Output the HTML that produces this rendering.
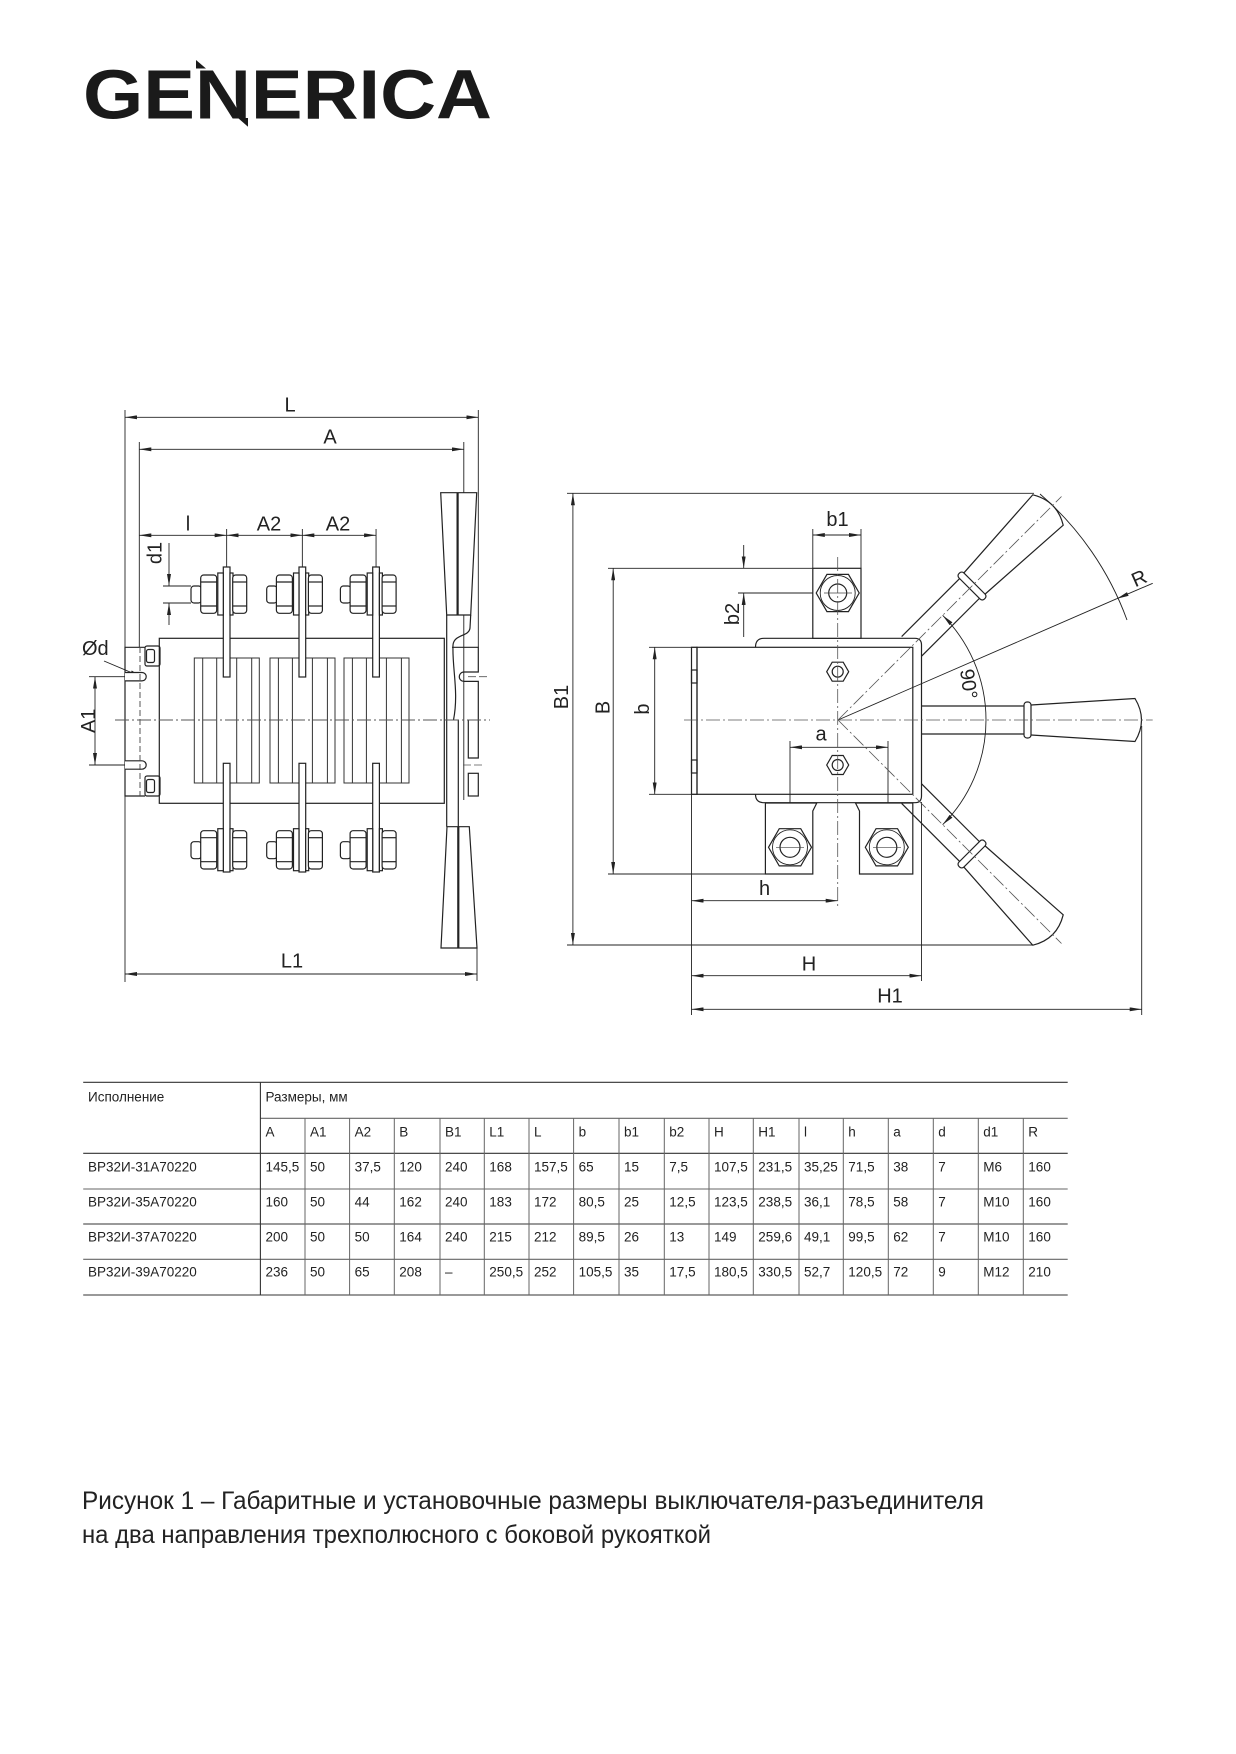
<!DOCTYPE html>
<html><head><meta charset="utf-8"><style>
html,body{margin:0;padding:0;background:#fff;}
svg{display:block;}
text{font-family:"Liberation Sans",Arial,sans-serif;fill:#222;}
</style></head><body>
<svg width="1236" height="1754" viewBox="0 0 1236 1754" xmlns="http://www.w3.org/2000/svg">
<defs>
<marker id="ar" viewBox="0 0 12 4" refX="12" refY="2" markerWidth="12" markerHeight="4" markerUnits="userSpaceOnUse" orient="auto-start-reverse"><path d="M0,0 L12,2 L0,4 z" fill="#222"/></marker>
<g id="nut" stroke="#222" stroke-width="1.2" fill="#fff">
<rect x="-32.3" y="586" width="10.5" height="17" rx="3"/>
<rect x="-22.6" y="575" width="16" height="38.3" rx="3"/>
<line x1="-22.6" y1="582" x2="-6.6" y2="582"/><line x1="-22.6" y1="606" x2="-6.6" y2="606"/>
<rect x="-5.5" y="573" width="5.5" height="42"/>
<rect x="6.7" y="573" width="3" height="42"/>
<rect x="9.4" y="575" width="14" height="38.3" rx="3"/>
<line x1="9.4" y1="582" x2="23.4" y2="582"/><line x1="9.4" y1="606" x2="23.4" y2="606"/>
</g>
<g id="ch" stroke="#333" stroke-width="1" fill="none">
<rect x="0" y="658" width="65" height="125"/>
<line x1="8.4" y1="658" x2="8.4" y2="783"/><line x1="22.4" y1="658" x2="22.4" y2="783"/>
<line x1="42.4" y1="658" x2="42.4" y2="783"/><line x1="57.4" y1="658" x2="57.4" y2="783"/>
</g>
</defs>

<!-- LOGO -->
<text x="83" y="118.3" font-size="70" font-weight="bold" textLength="409" lengthAdjust="spacingAndGlyphs" style="fill:#1a1a1a">GENERICA</text>
<polygon points="196,68.5 196,60 206,68.5" fill="#1a1a1a"/>
<polygon points="238,118 248,118 248,126.7" fill="#1a1a1a"/>

<!-- ================= LEFT VIEW ================= -->
<g stroke="#222" stroke-width="0.9" fill="none">
<line x1="125" y1="410" x2="125" y2="982"/>
<line x1="478.3" y1="410" x2="478.3" y2="647.3"/>
<line x1="139.3" y1="442" x2="139.3" y2="647.3"/>
<line x1="463.8" y1="442" x2="463.8" y2="800"/>
<line x1="226.65" y1="529" x2="226.65" y2="567"/>
<line x1="302.35" y1="529" x2="302.35" y2="567"/>
<line x1="376.05" y1="529" x2="376.05" y2="567"/>
<line x1="477" y1="948" x2="477" y2="981"/>
<line x1="125" y1="417.3" x2="478.3" y2="417.3" marker-start="url(#ar)" marker-end="url(#ar)"/>
<line x1="139.3" y1="449.3" x2="463.8" y2="449.3" marker-start="url(#ar)" marker-end="url(#ar)"/>
<line x1="139.3" y1="535.3" x2="226.65" y2="535.3" marker-start="url(#ar)" marker-end="url(#ar)"/>
<line x1="226.65" y1="535.3" x2="302.35" y2="535.3" marker-start="url(#ar)" marker-end="url(#ar)"/>
<line x1="302.35" y1="535.3" x2="376.05" y2="535.3" marker-start="url(#ar)" marker-end="url(#ar)"/>
<line x1="125" y1="974" x2="477" y2="974" marker-start="url(#ar)" marker-end="url(#ar)"/>
<line x1="169" y1="543" x2="169" y2="586" marker-end="url(#ar)"/>
<line x1="169" y1="625" x2="169" y2="603" marker-end="url(#ar)"/>
<line x1="163" y1="586" x2="191" y2="586"/>
<line x1="163" y1="603" x2="191" y2="603"/>
<line x1="95" y1="676.7" x2="95" y2="765" marker-start="url(#ar)" marker-end="url(#ar)"/>
<line x1="89" y1="676.7" x2="142" y2="676.7"/>
<line x1="89" y1="765" x2="142" y2="765"/>
<line x1="104" y1="661" x2="142" y2="677" marker-end="url(#ar)"/>
</g>

<g font-size="20">
<text x="290" y="411.7" text-anchor="middle">L</text>
<text x="330" y="443.3" text-anchor="middle">A</text>
<text x="188" y="530.7" text-anchor="middle">l</text>
<text x="269" y="530.7" text-anchor="middle">A2</text>
<text x="338" y="530.7" text-anchor="middle">A2</text>
<text x="292" y="967.3" text-anchor="middle">L1</text>
<text transform="translate(161.5,553) rotate(-90)" text-anchor="middle">d1</text>
<text transform="translate(95,720.8) rotate(-90)" text-anchor="middle">A1</text>
<text x="82" y="655">Ød</text>
</g>

<g stroke="#222" stroke-width="1.2" fill="none">
<path d="M145,647.3 H125 V796 H145"/>
<path d="M125,672.5 H142 A4.2,4.2 0 0 1 142,680.9 H125" fill="#fff"/>
<path d="M125,760.8 H142 A4.2,4.2 0 0 1 142,769.2 H125" fill="#fff"/>
<rect x="145" y="646" width="15" height="20" rx="2" fill="#fff"/>
<rect x="146.5" y="649.5" width="8" height="13" rx="2"/>
<rect x="145" y="776" width="15" height="20" rx="2" fill="#fff"/>
<rect x="146.5" y="779.5" width="8" height="13" rx="2"/>
</g>
<line x1="140" y1="647" x2="140" y2="796" stroke="#444" stroke-width="0.9" stroke-dasharray="6 3"/>

<rect x="159.3" y="638.3" width="285" height="165" fill="none" stroke="#222" stroke-width="1.2"/>
<use href="#ch" transform="translate(194.3,0)"/>
<use href="#ch" transform="translate(270,0)"/>
<use href="#ch" transform="translate(344,0)"/>

<g stroke="#222" stroke-width="1.2" fill="#fff">
<rect x="223.3" y="567" width="6.7" height="110"/>
<rect x="299" y="567" width="6.7" height="110"/>
<rect x="372.7" y="567" width="6.7" height="110"/>
<rect x="223.3" y="763.3" width="6.7" height="108.7"/>
<rect x="299" y="763.3" width="6.7" height="108.7"/>
<rect x="372.7" y="763.3" width="6.7" height="108.7"/>
</g>
<use href="#nut" transform="translate(223.3,0)"/>
<use href="#nut" transform="translate(299,0)"/>
<use href="#nut" transform="translate(372.7,0)"/>
<use href="#nut" transform="translate(223.3,255.7)"/>
<use href="#nut" transform="translate(299,255.7)"/>
<use href="#nut" transform="translate(372.7,255.7)"/>

<g stroke="#222" stroke-width="1.2" fill="none">
<polygon points="440.7,492.7 476.7,492.7 470.7,615 446.7,615" fill="#fff"/>
<line x1="457.6" y1="492.7" x2="457.6" y2="615" stroke-width="2.2"/>
<line x1="446.7" y1="615" x2="446.7" y2="826.7"/>
<path d="M470.7,615 L470,628 C469,637 454,634 453,645 C452,668 459,692 453.5,720"/>
<path d="M452,647.3 H478.3 V672 H464 A4.7,4.7 0 0 0 464,681.4 H478.3 V758 H468.3 V720"/>
<rect x="468.3" y="773.3" width="10" height="22.7"/>
<line x1="458.3" y1="720" x2="458.3" y2="826.7"/>
<polygon points="447,826.7 469.3,826.7 477,948 441,948" fill="#fff"/>
<line x1="458.3" y1="826.7" x2="458.3" y2="948" stroke-width="2.2"/>
</g>
<g stroke="#555" stroke-width="0.8">
<line x1="468" y1="676.7" x2="490" y2="676.7" stroke-dasharray="8 3"/>
<line x1="463" y1="765" x2="485" y2="765" stroke-dasharray="8 3"/>
</g>
<line x1="115" y1="720" x2="490" y2="720" stroke="#555" stroke-width="0.9" stroke-dasharray="14 3 2 3"/>

<!-- ================= RIGHT VIEW ================= -->
<g stroke="#222" stroke-width="0.9" fill="none">
<line x1="567" y1="493.3" x2="1034" y2="493.3"/>
<line x1="567" y1="945" x2="1034" y2="945"/>
<line x1="608" y1="568.3" x2="812.8" y2="568.3"/>
<line x1="608" y1="874" x2="812.8" y2="874"/>
<line x1="649" y1="647.3" x2="697" y2="647.3"/>
<line x1="649" y1="794.3" x2="697" y2="794.3"/>
<line x1="812.8" y1="529" x2="812.8" y2="568.3"/>
<line x1="861" y1="529" x2="861" y2="568.3"/>
<line x1="738" y1="593" x2="838" y2="593"/>
<line x1="790" y1="741" x2="790" y2="867"/>
<line x1="888" y1="741" x2="888" y2="867"/>
<line x1="691.5" y1="794" x2="691.5" y2="1015"/>
<line x1="921.5" y1="802" x2="921.5" y2="981"/>
<line x1="1141.7" y1="726" x2="1141.7" y2="1015"/>
<line x1="572.9" y1="493.3" x2="572.9" y2="945" marker-start="url(#ar)" marker-end="url(#ar)"/>
<line x1="613.2" y1="568.3" x2="613.2" y2="874" marker-start="url(#ar)" marker-end="url(#ar)"/>
<line x1="654.7" y1="647.3" x2="654.7" y2="794.3" marker-start="url(#ar)" marker-end="url(#ar)"/>
<line x1="812.8" y1="535" x2="861" y2="535" marker-start="url(#ar)" marker-end="url(#ar)"/>
<line x1="743.7" y1="545" x2="743.7" y2="568.3" marker-end="url(#ar)"/>
<line x1="743.7" y1="637" x2="743.7" y2="593" marker-end="url(#ar)"/>
<line x1="790" y1="747.3" x2="888" y2="747.3" marker-start="url(#ar)" marker-end="url(#ar)"/>
<line x1="691.5" y1="900.7" x2="837.7" y2="900.7" marker-start="url(#ar)" marker-end="url(#ar)"/>
<line x1="691.5" y1="975.7" x2="921.5" y2="975.7" marker-start="url(#ar)" marker-end="url(#ar)"/>
<line x1="691.5" y1="1009.3" x2="1141.7" y2="1009.3" marker-start="url(#ar)" marker-end="url(#ar)"/>
<path d="M942.65,615.35 A148,148 0 0 1 942.65,824.65" marker-start="url(#ar)" marker-end="url(#ar)"/>
<line x1="838" y1="720" x2="1116.8" y2="598.7"/>
<line x1="1152.7" y1="583.3" x2="1116.8" y2="598.7" marker-end="url(#ar)"/>
<path d="M1040,494 A304,304 0 0 1 1127,620"/>
</g>

<g stroke="#222" stroke-width="1.2" fill="none">
<rect x="691.5" y="647.3" width="5.5" height="147"/>
<rect x="691.5" y="670" width="5.5" height="13"/>
<rect x="691.5" y="760" width="5.5" height="13"/>
<rect x="697" y="647.3" width="215.8" height="147"/>
<path d="M755.5,647.3 Q755.5,638.3 764,638.3 L915,638.3 Q921.5,638.3 921.5,645 L921.5,796 Q921.5,802.7 915,802.7 L764,802.7 Q755.5,802.7 755.5,794.3"/>
<rect x="812.8" y="568.3" width="48.2" height="70" fill="#fff"/>
<path d="M765.4,874 V803 H816.8 L812.8,811 V874 Z" fill="#fff"/>
<path d="M912.8,874 V803 H855.5 L859.5,811 V874 Z" fill="#fff"/>
<polygon points="816.2,593 826.95,574.4 848.45,574.4 859.2,593 848.45,611.6 826.95,611.6"/>
<circle cx="837.7" cy="593" r="17.5" stroke-width="0.9"/>
<circle cx="837.7" cy="593" r="9"/>
<polygon points="768.5,847.3 779.25,828.7 800.75,828.7 811.5,847.3 800.75,865.9 779.25,865.9"/>
<circle cx="790" cy="847.3" r="17.5" stroke-width="0.9"/>
<circle cx="790" cy="847.3" r="10"/>
<polygon points="865.3,847.3 876.05,828.7 897.55,828.7 908.3,847.3 897.55,865.9 876.05,865.9"/>
<circle cx="886.8" cy="847.3" r="17.5" stroke-width="0.9"/>
<circle cx="886.8" cy="847.3" r="10"/>
<polygon points="826.7,671.7 832.2,662.2 843.2,662.2 848.7,671.7 843.2,681.2 832.2,681.2"/>
<circle cx="837.7" cy="671.7" r="5.5"/>
<polygon points="826.7,765 832.2,755.5 843.2,755.5 848.7,765 843.2,774.5 832.2,774.5"/>
<circle cx="837.7" cy="765" r="5.5"/>
</g>
<g stroke="#444" stroke-width="0.7">
<line x1="776" y1="847.3" x2="804" y2="847.3"/>
<line x1="873" y1="847.3" x2="901" y2="847.3"/>
<line x1="824" y1="593" x2="852" y2="593"/>
</g>

<g stroke="#222" stroke-width="1.2" fill="none">
<g transform="translate(838,720)">
<path d="M83.5,-14 H186 M83.5,14 H186"/>
<rect x="186" y="-18" width="7" height="36" rx="3"/>
<path d="M193,-15 L297,-21.5 Q310,0 297,21.5 L193,15"/>
</g>
<g transform="translate(838,720) rotate(-45)">
<path d="M104,-14 H186 M104,14 H186"/>
<rect x="186" y="-18" width="7" height="36" rx="3"/>
<path d="M193,-15 L297,-21.5 Q310,0 297,21.5 L193,15"/>
</g>
<g transform="translate(838,720) rotate(45)">
<path d="M104,-14 H186 M104,14 H186"/>
<rect x="186" y="-18" width="7" height="36" rx="3"/>
<path d="M193,-15 L297,-21.5 Q310,0 297,21.5 L193,15"/>
</g>
</g>
<g stroke="#555" stroke-width="0.8" fill="none" stroke-dasharray="14 3 2 3">
<line x1="684" y1="720" x2="1152.7" y2="720"/>
<line x1="837.7" y1="557" x2="837.7" y2="907"/>
<line x1="838" y1="720" x2="1061.5" y2="496.5"/>
<line x1="838" y1="720" x2="1061.5" y2="943.5"/>
</g>

<g font-size="20">
<text transform="translate(568,697) rotate(-90)" text-anchor="middle">B1</text>
<text transform="translate(609.3,707.5) rotate(-90)" text-anchor="middle">B</text>
<text transform="translate(648.8,709) rotate(-90)" text-anchor="middle">b</text>
<text transform="translate(739,614) rotate(-90)" text-anchor="middle">b2</text>
<text x="837.5" y="526" text-anchor="middle">b1</text>
<text x="821" y="740.7" text-anchor="middle">a</text>
<text x="764.5" y="895" text-anchor="middle">h</text>
<text x="809" y="970.7" text-anchor="middle">H</text>
<text x="890" y="1002.7" text-anchor="middle">H1</text>
<text transform="translate(969,684) rotate(82)" x="0" y="7" text-anchor="middle">90°</text>
<text transform="translate(1139,578) rotate(-24)" x="0" y="7" text-anchor="middle">R</text>
</g>

<!-- ================= TABLE ================= -->
<g stroke="#333" stroke-width="1.1">
<line x1="83.2" y1="1082.3" x2="1067.7" y2="1082.3"/>
<line x1="260.4" y1="1118.3" x2="1067.7" y2="1118.3" stroke="#666"/>
<line x1="83.2" y1="1153.3" x2="1067.7" y2="1153.3"/>
<line x1="83.2" y1="1189" x2="1067.7" y2="1189" stroke="#666"/>
<line x1="83.2" y1="1224" x2="1067.7" y2="1224"/>
<line x1="83.2" y1="1259.3" x2="1067.7" y2="1259.3" stroke="#666"/>
<line x1="83.2" y1="1295" x2="1067.7" y2="1295"/>
<line x1="260.4" y1="1082.3" x2="260.4" y2="1295"/>
</g>
<g stroke="#666" stroke-width="1">
<line x1="305" y1="1118.3" x2="305" y2="1295"/>
<line x1="349.6" y1="1118.3" x2="349.6" y2="1295"/>
<line x1="394.3" y1="1118.3" x2="394.3" y2="1295"/>
<line x1="440" y1="1118.3" x2="440" y2="1295"/>
<line x1="484.3" y1="1118.3" x2="484.3" y2="1295"/>
<line x1="529" y1="1118.3" x2="529" y2="1295"/>
<line x1="573.6" y1="1118.3" x2="573.6" y2="1295"/>
<line x1="619" y1="1118.3" x2="619" y2="1295"/>
<line x1="664.3" y1="1118.3" x2="664.3" y2="1295"/>
<line x1="709" y1="1118.3" x2="709" y2="1295"/>
<line x1="753.3" y1="1118.3" x2="753.3" y2="1295"/>
<line x1="799" y1="1118.3" x2="799" y2="1295"/>
<line x1="843.3" y1="1118.3" x2="843.3" y2="1295"/>
<line x1="888.3" y1="1118.3" x2="888.3" y2="1295"/>
<line x1="933.3" y1="1118.3" x2="933.3" y2="1295"/>
<line x1="978.3" y1="1118.3" x2="978.3" y2="1295"/>
<line x1="1023.3" y1="1118.3" x2="1023.3" y2="1295"/>
</g>
<g font-size="13.5" style="fill:#333">
<text x="88" y="1101.3">Исполнение</text>
<text x="265.5" y="1101.3">Размеры, мм</text>
<g transform="translate(0,1136.3)">
<text x="265.5">A</text><text x="310">A1</text><text x="354.6">A2</text><text x="399.3">B</text>
<text x="445">B1</text><text x="489.3">L1</text><text x="534">L</text><text x="578.6">b</text>
<text x="624">b1</text><text x="669.3">b2</text><text x="714">H</text><text x="758.3">H1</text>
<text x="804">l</text><text x="848.3">h</text><text x="893.3">a</text><text x="938.3">d</text>
<text x="983.3">d1</text><text x="1028.3">R</text>
</g>
<g transform="translate(0,1171.3)">
<text x="88">ВР32И-31А70220</text>
<text x="265.5">145,5</text><text x="310">50</text><text x="354.6">37,5</text><text x="399.3">120</text>
<text x="445">240</text><text x="489.3">168</text><text x="534">157,5</text><text x="578.6">65</text>
<text x="624">15</text><text x="669.3">7,5</text><text x="714">107,5</text><text x="758.3">231,5</text>
<text x="804">35,25</text><text x="848.3">71,5</text><text x="893.3">38</text><text x="938.3">7</text>
<text x="983.3">M6</text><text x="1028.3">160</text>
</g>
<g transform="translate(0,1206.3)">
<text x="88">ВР32И-35А70220</text>
<text x="265.5">160</text><text x="310">50</text><text x="354.6">44</text><text x="399.3">162</text>
<text x="445">240</text><text x="489.3">183</text><text x="534">172</text><text x="578.6">80,5</text>
<text x="624">25</text><text x="669.3">12,5</text><text x="714">123,5</text><text x="758.3">238,5</text>
<text x="804">36,1</text><text x="848.3">78,5</text><text x="893.3">58</text><text x="938.3">7</text>
<text x="983.3">M10</text><text x="1028.3">160</text>
</g>
<g transform="translate(0,1241.3)">
<text x="88">ВР32И-37А70220</text>
<text x="265.5">200</text><text x="310">50</text><text x="354.6">50</text><text x="399.3">164</text>
<text x="445">240</text><text x="489.3">215</text><text x="534">212</text><text x="578.6">89,5</text>
<text x="624">26</text><text x="669.3">13</text><text x="714">149</text><text x="758.3">259,6</text>
<text x="804">49,1</text><text x="848.3">99,5</text><text x="893.3">62</text><text x="938.3">7</text>
<text x="983.3">M10</text><text x="1028.3">160</text>
</g>
<g transform="translate(0,1276.3)">
<text x="88">ВР32И-39А70220</text>
<text x="265.5">236</text><text x="310">50</text><text x="354.6">65</text><text x="399.3">208</text>
<text x="445">–</text><text x="489.3">250,5</text><text x="534">252</text><text x="578.6">105,5</text>
<text x="624">35</text><text x="669.3">17,5</text><text x="714">180,5</text><text x="758.3">330,5</text>
<text x="804">52,7</text><text x="848.3">120,5</text><text x="893.3">72</text><text x="938.3">9</text>
<text x="983.3">M12</text><text x="1028.3">210</text>
</g>
</g>

<!-- CAPTION -->
<text x="82" y="1509" font-size="25" textLength="902" lengthAdjust="spacingAndGlyphs">Рисунок 1 –  Габаритные и установочные размеры выключателя-разъединителя</text>
<text x="82" y="1543" font-size="25" textLength="629" lengthAdjust="spacingAndGlyphs">на два направления трехполюсного с боковой рукояткой</text>
</svg>
</body></html>
